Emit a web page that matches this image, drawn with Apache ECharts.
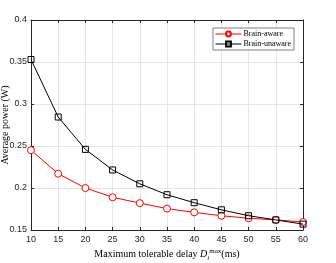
<!DOCTYPE html>
<html><head><meta charset="utf-8">
<script src="https://cdn.jsdelivr.net/npm/echarts@6/dist/echarts.min.js"></script>
<style>html,body{margin:0;padding:0;background:#fff}#c{width:336px;height:263px}</style>
</head><body><div id="c"></div>
<script>
const categories = [10, 15, 20, 25, 30, 35, 40, 45, 50, 55, 60];
const brainAware = [0.245, 0.217, 0.2, 0.189, 0.182, 0.1755, 0.171, 0.167, 0.164, 0.162, 0.1595];
const brainUnaware = [0.353, 0.2845, 0.246, 0.2215, 0.205, 0.192, 0.1825, 0.174, 0.167, 0.162, 0.157];
const yTicks = [0.15, 0.2, 0.25, 0.3, 0.35, 0.4];

const chart = echarts.init(document.getElementById('c'), null, {renderer: 'canvas'});
const tickCol = '#262626';
const serif = '"Liberation Serif", "DejaVu Serif", serif';
const sans = '"Liberation Sans", Arial, sans-serif';
chart.setOption({
  animation: false,
  grid: {left: 31, right: 33, top: 20, bottom: 33, containLabel: false, outerBoundsMode: 'none'},
  legend: {
    right: 42, top: 28, orient: 'vertical', itemGap: 2,
    itemWidth: 26, itemHeight: 6,
    backgroundColor: '#fff', borderColor: '#7f7f7f', borderWidth: 1,
    padding: [2, 3, 2, 2],
    lineStyle: {width: 1},
    textStyle: {fontFamily: serif, fontSize: 8, color: '#000', padding: [0,0,0,-3]},
    data: ['Brain-aware', 'Brain-unaware']
  },
  xAxis: [{
    type: 'value', min: 10, max: 60, interval: 5,
    name: '{n|Maximum tolerable delay }{d|D}{sub|i}{sup|max}{n|(ms)}',
    nameLocation: 'middle', nameGap: 17, nameMoveOverlap: false,
    nameTextStyle: {
      fontFamily: serif, fontSize: 10, color: '#000',
      rich: {
        n: {fontFamily: serif, fontSize: 10, color: '#000'},
        d: {fontFamily: serif, fontSize: 10, fontStyle: 'italic', color: '#000'},
        sub: {fontFamily: serif, fontSize: 7, fontStyle: 'italic', color: '#000', width: 2, padding: [8, 0, 0, 0]},
        sup: {fontFamily: serif, fontSize: 7, color: '#000', padding: [0, 0, 7, 0]}
      }
    },
    axisLine: {show: true, lineStyle: {color: tickCol, width: 1}},
    axisTick: {show: true, inside: true, length: 3, lineStyle: {color: tickCol}},
    axisLabel: {fontFamily: sans, fontSize: 9, color: tickCol, margin: 5},
    splitLine: {show: true, lineStyle: {color: '#e6e6e6', width: 1}}
  }, {
    type: 'value', min: 10, max: 60, interval: 5, position: 'top',
    axisLine: {show: true, lineStyle: {color: tickCol, width: 1}},
    axisTick: {show: true, inside: true, length: 3, lineStyle: {color: tickCol}},
    axisLabel: {show: false}, splitLine: {show: false}
  }],
  yAxis: [{
    type: 'value', min: yTicks[0], max: yTicks[yTicks.length - 1], interval: 0.05,
    name: 'Average power (W)', nameLocation: 'middle', nameGap: 21, nameMoveOverlap: false,
    nameTextStyle: {fontFamily: serif, fontSize: 10, color: '#000'},
    axisLine: {show: true, lineStyle: {color: tickCol, width: 1}},
    axisTick: {show: true, inside: true, length: 3, lineStyle: {color: tickCol}},
    axisLabel: {fontFamily: sans, fontSize: 9, color: tickCol, margin: 4,
      formatter: v => String(parseFloat(v.toFixed(2)))},
    splitLine: {show: true, lineStyle: {color: '#e6e6e6', width: 1}}
  }, {
    type: 'value', min: yTicks[0], max: yTicks[yTicks.length - 1], interval: 0.05, position: 'right',
    axisLine: {show: true, lineStyle: {color: tickCol, width: 1}},
    axisTick: {show: true, inside: true, length: 3, lineStyle: {color: tickCol}},
    axisLabel: {show: false}, splitLine: {show: false}
  }],
  series: [{
    name: 'Brain-aware', type: 'line',
    data: categories.map((c, i) => [c, brainAware[i]]),
    symbol: 'circle', symbolSize: 7,
    lineStyle: {color: '#ff0000', width: 1},
    itemStyle: {color: '#fff', borderColor: '#ff0000', borderWidth: 1},
    z: 3
  }, {
    name: 'Brain-unaware', type: 'line',
    data: categories.map((c, i) => [c, brainUnaware[i]]),
    symbol: 'rect', symbolSize: 6,
    lineStyle: {color: '#000', width: 1},
    itemStyle: {color: 'rgba(255,255,255,0)', borderColor: '#000', borderWidth: 1},
    z: 4
  }]
});
</script></body></html>
